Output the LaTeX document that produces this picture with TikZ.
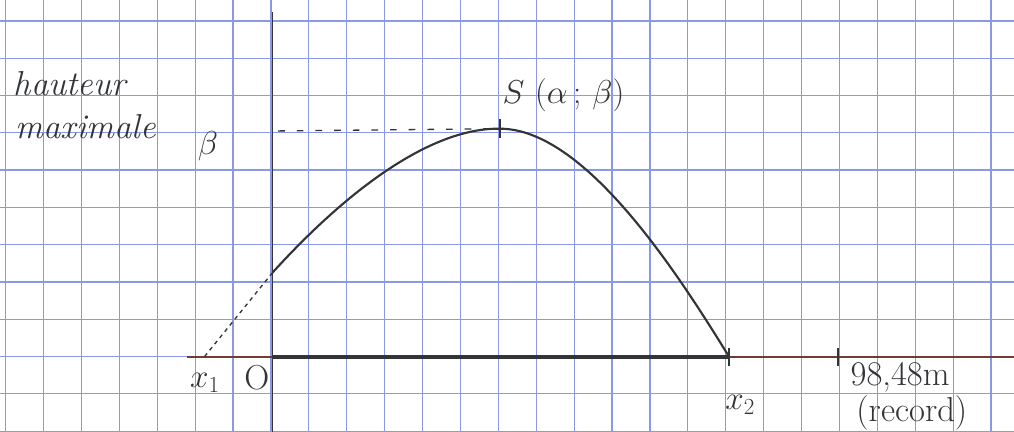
\documentclass[tikz,border=0pt]{standalone}
\usepackage{amsmath,amssymb}
\usepackage{tikz}
\definecolor{gridblue}{RGB}{140,152,228}
\definecolor{ink}{RGB}{50,52,56}
\definecolor{axisred}{RGB}{110,62,52}
\tikzset{
  gridline/.style={gridblue,line width=0.9pt},
  pen/.style={ink,line width=1.6pt},
  tickmark/.style={ink,line width=1.8pt}
}
\begin{document}
\begin{tikzpicture}[x=1cm, y=0.984cm, font=\fontsize{26}{30}\selectfont, text=ink]
  \useasboundingbox (-7.19,-2.01) rectangle (19.565,9.571);
  \fill[white] (-7.19,-2.01) rectangle (19.565,9.571);
  \foreach \i in {-7,...,19} \draw[gridline] (\i-0.04,-2.01) -- (\i-0.04,9.571);
  \foreach \j in {-2,...,9} \draw[gridline] (-7.19,\j+0.01) -- (19.565,\j+0.01);

  \coordinate (O) at (0,0);
  \coordinate (Ytop) at (0,9.25);
  \coordinate (Ybot) at (0,-2.01);
  \coordinate (Xleft) at (-2.25,0);
  \coordinate (Xright) at (19.565,0);
  \coordinate (Y0) at (0,2.26);
  \coordinate (S) at (6,6.12);
  \coordinate (B) at (0.15,6.06);
  \coordinate (X1) at (-1.8,0);
  \coordinate (X2) at (12.05,0);
  \coordinate (R) at (14.92,0);

  \draw[pen,line width=1.4pt] (Ybot) -- (Ytop);
  \draw[axisred,line width=1.2pt] (Xleft) -- (Xright);
  \draw[ink,line width=3.6pt] (O) -- (X2);
  \draw[tickmark] (X2) ++(0,-0.25) -- ++(0,0.5);
  \draw[tickmark] (R) ++(0,-0.25) -- ++(0,0.5);
  \draw[tickmark] (S) ++(0,-0.25) -- ++(0,0.5);
  \draw[pen] (Y0) .. controls (2,4.5) and (4.2,6.15) .. (S)
             .. controls (8.2,6.12) and (10.6,2.4) .. (X2);
  \draw[pen,line width=1pt,dashed] (Y0) -- (X1);
  \draw[pen,line width=1pt,dash pattern=on 5pt off 9pt] (B) -- (S);

  \node[anchor=west] (haut) at (-6.95,7.32) {\itshape hauteur};
  \node[anchor=west] (maxi) at (-6.9,6.17) {\itshape maximale};
  \node (beta) at (-1.7,5.66) {$\beta$};
  \node[anchor=west] (Slab) at (5.95,7.02) {$S\ (\alpha\,;\,\beta)$};
  \node (Olab) at (-0.41,-0.56) {O};
  \node (x1lab) at (-1.78,-0.7) {$x_1$};
  \node (x2lab) at (12.34,-1.29) {$x_2$};
  \node[inner sep=0pt] (dist) at (16.56,-0.55) {98,48m};
  \node[inner sep=0pt] (rec) at (16.87,-1.5) {(record)};
\end{tikzpicture}
\end{document}
